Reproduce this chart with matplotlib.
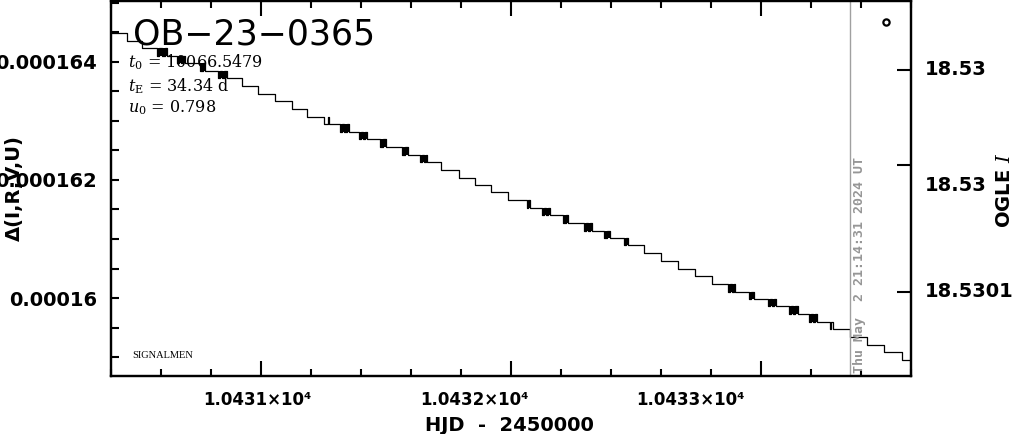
import matplotlib
matplotlib.use("Agg")
import matplotlib.pyplot as plt
import matplotlib.transforms as mtransforms
from matplotlib.ticker import MultipleLocator, FuncFormatter, NullLocator

# ---------------- data ----------------
# quantised flux levels of the light curve (units of 1e-6)
flux_levels = [164.49, 164.36, 164.23, 164.10, 163.98, 163.85, 163.72, 163.59,
               163.46, 163.33, 163.20, 163.07, 162.95, 162.82, 162.69, 162.56,
               162.43, 162.30, 162.17, 162.04, 161.92, 161.79, 161.66, 161.53,
               161.40, 161.27, 161.14, 161.01, 160.89, 160.76, 160.63, 160.50,
               160.37, 160.24, 160.11, 159.98, 159.86, 159.73, 159.60, 159.47,
               159.34, 159.21, 159.08, 158.95]
# times (HJD-2450000) where the curve switches between level k and k+1
level_switches = [
    [10430.464], [10430.524],
    [10430.584, 10430.594, 10430.604, 10430.614, 10430.624],
    [10430.664, 10430.672, 10430.680, 10430.688, 10430.696],
    [10430.756, 10430.766, 10430.776],
    [10430.828, 10430.836, 10430.844, 10430.852, 10430.864],
    [10430.924], [10430.988], [10431.056], [10431.124], [10431.184],
    [10431.252, 10431.268, 10431.272],
    [10431.316, 10431.324, 10431.332, 10431.344, 10431.352],
    [10431.392, 10431.400, 10431.408, 10431.416, 10431.424],
    [10431.476, 10431.488, 10431.500],
    [10431.564, 10431.576, 10431.588],
    [10431.636, 10431.644, 10431.652, 10431.660, 10431.664],
    [10431.720], [10431.792], [10431.856], [10431.920], [10431.988],
    [10432.064, 10432.070, 10432.076],
    [10432.124, 10432.132, 10432.140, 10432.148, 10432.156],
    [10432.208, 10432.218, 10432.228],
    [10432.292, 10432.300, 10432.308, 10432.316, 10432.324],
    [10432.372, 10432.384, 10432.396],
    [10432.452, 10432.460, 10432.468],
    [10432.532], [10432.600], [10432.668], [10432.736], [10432.804],
    [10432.868, 10432.876, 10432.884, 10432.892, 10432.896],
    [10432.952, 10432.962, 10432.972],
    [10433.028, 10433.036, 10433.044, 10433.052, 10433.060],
    [10433.112, 10433.120, 10433.128, 10433.136, 10433.148],
    [10433.192, 10433.200, 10433.208, 10433.216, 10433.224],
    [10433.276, 10433.280, 10433.288],
    [10433.356], [10433.424], [10433.492], [10433.564],
]
# switch groups that are single spikes rather than dense flicker blocks
spike_groups = [11, 38]
hjd_start = 10430.400
hjd_end = 10433.600
now_hjd = 10433.356
now_label = "Thu May  2 21:14:31 2024 UT"
marker_hjd = [10433.500]
marker_flux = [164.68]

event_name = "OB\u221223\u22120365"
param_lines = [r"$t_0$ = 10066.5479", r"$t_{\rm E}$ = 34.34 d", r"$u_0$ = 0.798"]
credit = "SIGNALMEN"

xlim = (10430.4, 10433.6)
ylim = (158.68, 165.03)           # 1e-6 units
xtick_major = [10431, 10432, 10433]
xtick_label_hjd = [10430.984, 10431.852, 10432.716]
xtick_labels = ["1.0431\u00d710\u2074", "1.0432\u00d710\u2074", "1.0433\u00d710\u2074"]

mag_lim = (18.530088, 18.529919)
mag_ticks = [18.52995, 18.529993, 18.53005]
mag_label_pos = [18.52995, 18.530002, 18.53005]
mag_labels = ["18.53", "18.53", "18.5301"]

# ---------------- figure ----------------
plt.rcParams["mathtext.fontset"] = "dejavuserif"
fig = plt.figure(figsize=(10.14, 4.34), dpi=100)
ax = fig.add_axes([111 / 1014, 58 / 434, 800 / 1014, 375 / 434])

# build step curve from levels and switch times
xs = [hjd_start]
ys = [flux_levels[0]]
for k, sw in enumerate(level_switches):
    for j, t in enumerate(sw):
        xs.append(t)
        ys.append(flux_levels[k + 1] if j % 2 == 0 else flux_levels[k])
xs.append(hjd_end)
ys.append(ys[-1])
ax.plot(xs, [v * 1e-6 for v in ys], drawstyle="steps-post", color="black", lw=0.9)

# dense flicker groups look like solid blocks
for k, sw in enumerate(level_switches):
    if len(sw) >= 3 and k not in spike_groups:
        ax.fill_between([sw[0], sw[-1]], flux_levels[k + 1] * 1e-6,
                        flux_levels[k] * 1e-6, color="black", lw=0)

ax.axvline(now_hjd, color="#a0a0a0", lw=1.0)
ax.plot(marker_hjd, [v * 1e-6 for v in marker_flux], "o", mfc="none", mec="black",
        ms=4.5, mew=1.6)

ax.set_xlim(*xlim)
ax.set_ylim(ylim[0] * 1e-6, ylim[1] * 1e-6)

for s in ax.spines.values():
    s.set_linewidth(1.6)

ax.xaxis.set_major_locator(matplotlib.ticker.FixedLocator(xtick_major))
ax.xaxis.set_minor_locator(MultipleLocator(0.2))
ax.yaxis.set_major_locator(MultipleLocator(2e-6))
ax.yaxis.set_minor_locator(MultipleLocator(0.5e-6))
ax.yaxis.set_major_formatter(FuncFormatter(lambda v, p: "%g" % v))
ax.tick_params(axis="x", which="major", direction="in", length=10.5, width=1.5,
               top=True, bottom=True, labelbottom=False)
ax.tick_params(axis="x", which="minor", direction="in", length=5, width=1.5,
               top=True, bottom=True)
ax.tick_params(axis="y", which="both", direction="in", length=6, width=1.5,
               left=True, right=False, labelsize=14, pad=10)
for lab in ax.get_yticklabels():
    lab.set_fontweight("bold")

xtrans = mtransforms.blended_transform_factory(ax.transData, ax.transAxes)
for xv, txt in zip(xtick_label_hjd, xtick_labels):
    ax.text(xv, -0.064, txt, transform=xtrans, ha="center", va="center",
            fontsize=12, fontweight="bold")

ax.set_xlabel("HJD  -  2450000", fontsize=14, fontweight="bold")
ax.xaxis.set_label_coords(0.4975, -0.106)
ax.set_ylabel("\u0394(I,R,V,U)", fontsize=14, fontweight="bold", va="center", ha="center")
ax.yaxis.set_label_coords(-0.121, 0.501)

# right magnitude axis
ax2 = ax.twinx()
ax2.set_ylim(*mag_lim)
ax2.set_yticks(mag_ticks)
ax2.set_yticklabels([""] * len(mag_ticks))
ax2.yaxis.set_minor_locator(NullLocator())
ax2.tick_params(axis="y", direction="in", length=10, width=1.5, right=True, left=False)
for s in ax2.spines.values():
    s.set_linewidth(1.6)
rtrans = mtransforms.blended_transform_factory(ax2.transAxes, ax2.transData)
for yv, txt in zip(mag_label_pos, mag_labels):
    ax2.text(1.0175, yv, txt, transform=rtrans, ha="left", va="center",
             fontsize=14, fontweight="bold")
ax2.set_ylabel("OGLE $\\mathbf{\\it{I}}$", fontsize=14, fontweight="bold",
               rotation=90, va="center", ha="center")
ax2.yaxis.set_label_coords(1.1175, 0.496)

# annotations
ax.text(0.0275, 0.8827, event_name, transform=ax.transAxes, fontsize=25,
        ha="left", va="baseline", family="DejaVu Sans")
for line, yb in zip(param_lines, [0.824, 0.76, 0.704]):
    ax.text(0.0215, yb, line, transform=ax.transAxes, fontsize=11.5,
            family="DejaVu Serif", ha="left", va="baseline")
ax.text(0.0265, 0.048, credit, transform=ax.transAxes, fontsize=7.5,
        family="Liberation Serif", ha="left", va="baseline")

dtrans = mtransforms.offset_copy(xtrans, fig=fig, x=3, y=0, units="dots")
ax.text(now_hjd, 0.008, now_label, transform=dtrans, rotation=90, ha="left",
        va="bottom", fontsize=9.5, fontweight="bold", family="DejaVu Sans Mono",
        color="#969696")

fig.savefig("out.png", dpi=100)
